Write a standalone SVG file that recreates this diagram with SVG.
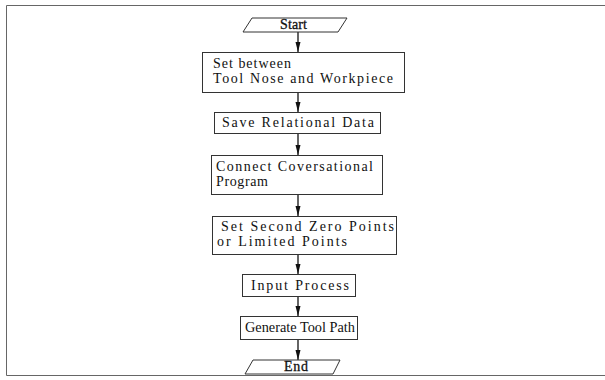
<svg xmlns="http://www.w3.org/2000/svg" width="605" height="380" viewBox="0 0 605 380">
  <defs>
    <marker id="arrow" markerUnits="userSpaceOnUse" markerWidth="11" markerHeight="6" refX="10" refY="2.5" orient="auto">
      <path d="M0,0 L10,2.5 L0,5 Z" fill="#111"/>
    </marker>
  </defs>
  <style>
    .frame { fill: none; stroke: #666; stroke-width: 1; }
    .box { fill: #fff; stroke: #333; stroke-width: 1; }
    .lbl { font-family: "Liberation Serif", "DejaVu Serif", serif; font-size: 14px; fill: #111; }
    .term { stroke: #111; stroke-width: 0.3; }
    .conn { stroke: #111; stroke-width: 1.3; fill: none; marker-end: url(#arrow); }
  </style>
  <rect width="605" height="380" fill="#fff"/>
  <!-- outer frame, open on the right -->
  <path class="frame" d="M605,5.5 H6.5 V375.5 H605"/>

  <g id="connectors">
    <line class="conn" x1="298" y1="32" x2="298" y2="52"/>
    <line class="conn" x1="298" y1="93" x2="298" y2="112"/>
    <line class="conn" x1="298" y1="133" x2="298" y2="155"/>
    <line class="conn" x1="298" y1="195" x2="298" y2="216"/>
    <line class="conn" x1="298" y1="255" x2="298" y2="274"/>
    <line class="conn" x1="298" y1="296" x2="298" y2="316"/>
    <line class="conn" x1="298" y1="339" x2="298" y2="360"/>
  </g>

  <g id="start">
    <polygon class="box" points="252,18 347,18 338,32 243,32"/>
    <text class="lbl term" x="280" y="29" textLength="27" lengthAdjust="spacing">Start</text>
  </g>
  <g id="set-between">
    <rect class="box" x="202.5" y="52.5" width="202" height="40"/>
    <text class="lbl" x="213" y="68" textLength="78" lengthAdjust="spacing">Set between</text>
    <text class="lbl" x="213" y="83" textLength="180" lengthAdjust="spacing">Tool Nose and Workpiece</text>
  </g>
  <g id="save-data">
    <rect class="box" x="214.5" y="112.5" width="166" height="21"/>
    <text class="lbl" x="222" y="127" textLength="152" lengthAdjust="spacing">Save Relational Data</text>
  </g>
  <g id="connect-program">
    <rect class="box" x="211.5" y="155.5" width="171" height="39"/>
    <text class="lbl" x="216" y="171" textLength="157" lengthAdjust="spacing">Connect Coversational</text>
    <text class="lbl" x="216" y="186" textLength="52" lengthAdjust="spacing">Program</text>
  </g>
  <g id="zero-points">
    <rect class="box" x="212.5" y="216.5" width="184" height="38"/>
    <text class="lbl" x="221" y="231" textLength="173" lengthAdjust="spacing">Set Second Zero Points</text>
    <text class="lbl" x="217" y="246" textLength="130" lengthAdjust="spacing">or Limited Points</text>
  </g>
  <g id="input-process">
    <rect class="box" x="242.5" y="274.5" width="113" height="22"/>
    <text class="lbl" x="251" y="290" textLength="98" lengthAdjust="spacing">Input Process</text>
  </g>
  <g id="tool-path">
    <rect class="box" x="240.5" y="316.5" width="117" height="23"/>
    <text class="lbl" x="245" y="332" textLength="110" lengthAdjust="spacingAndGlyphs">Generate Tool Path</text>
  </g>
  <g id="end">
    <polygon class="box" points="253,360 340,360 333,374 245,374"/>
    <text class="lbl term" x="284" y="371" textLength="24" lengthAdjust="spacing">End</text>
  </g>
</svg>
